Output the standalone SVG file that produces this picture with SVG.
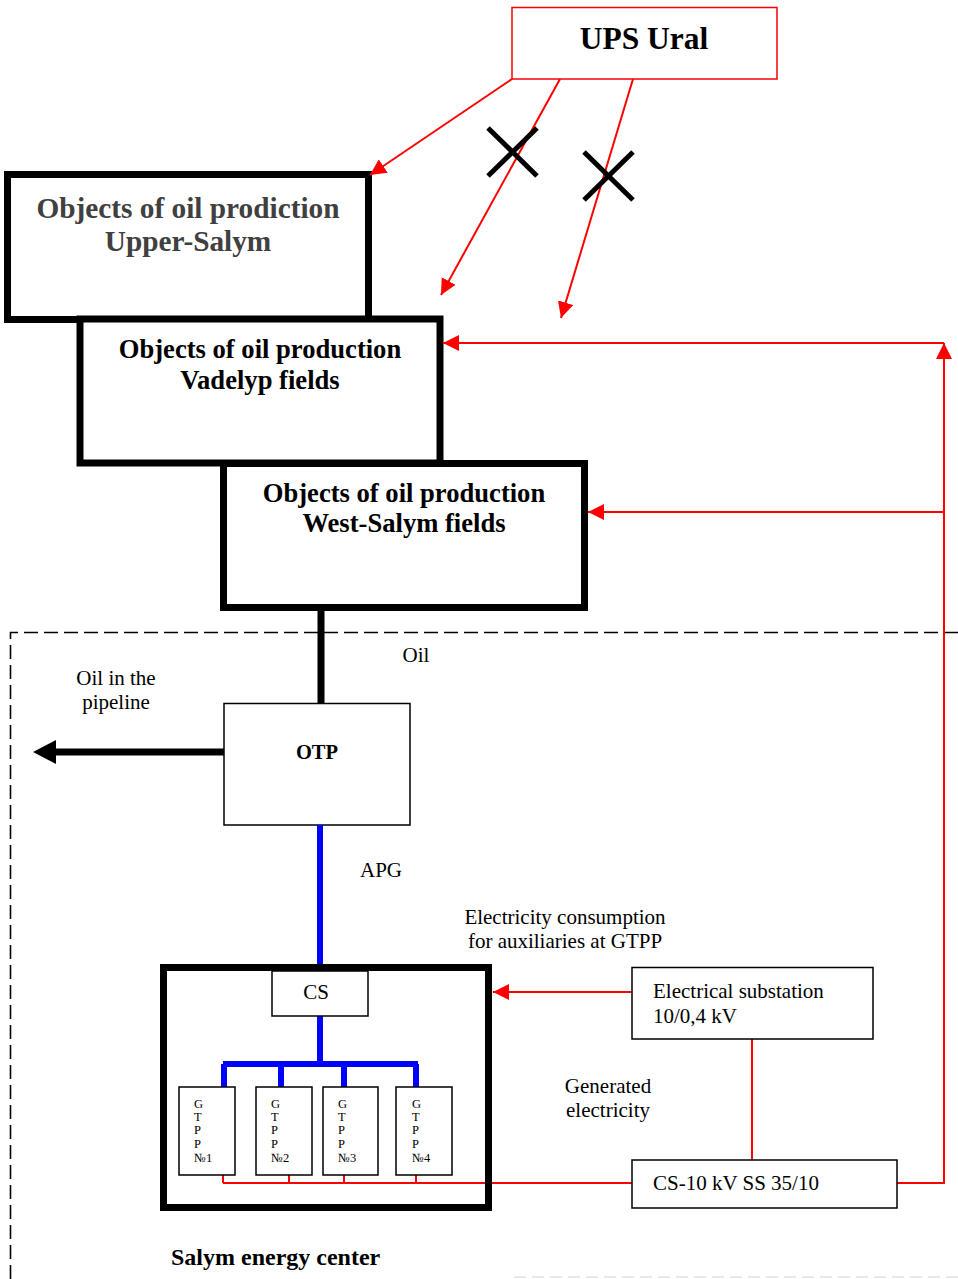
<svg xmlns="http://www.w3.org/2000/svg" width="958" height="1279" viewBox="0 0 958 1279">
<style>
text{font-family:"Liberation Serif","Times New Roman",serif;fill:#000}
.b{font-weight:bold}
.big{font-size:26.6px;font-weight:bold;text-anchor:middle}
.reg{font-size:21px}
.sm{font-size:12.5px}
.thick{fill:#fff;stroke:#000;stroke-width:7}
.thin{fill:#fff;stroke:#000;stroke-width:1.5}
.red{fill:none;stroke:#ff0000;stroke-width:2}
.blue{fill:none;stroke:#0000ff;stroke-width:6}
.dash{fill:none;stroke:#000;stroke-width:1.6;stroke-dasharray:14 6}
.x{stroke:#000;stroke-width:5}
</style>
<defs>
<marker id="ra" viewBox="0 0 16 16" refX="16" refY="8" markerWidth="16" markerHeight="16" markerUnits="userSpaceOnUse" orient="auto">
<path d="M0,0 L16,8 L0,16 z" fill="#ff0000"/>
</marker>
<marker id="ba" viewBox="0 0 23 24" refX="0" refY="12" markerWidth="23" markerHeight="24" markerUnits="userSpaceOnUse" orient="auto">
<path d="M0,0 L23,12 L0,24 z" fill="#000"/>
</marker>
</defs>

<g id="boundary">
<path class="dash" d="M958,632.5 H10.5 V1279"/>
<path d="M514,1277 H958" fill="none" stroke="#e2e2e2" stroke-width="1.5" stroke-dasharray="12 6"/>
</g>

<g id="ups-ural">
<rect x="512" y="7.5" width="265" height="71.5" fill="#fff" stroke="#ff0000" stroke-width="1.5"/>
<text x="644" y="49" class="b" font-size="31.5" text-anchor="middle">UPS Ural</text>
</g>

<g id="upper-salym">
<rect class="thick" x="7.5" y="174.5" width="361" height="145"/>
<text x="188" y="218" class="b" font-size="29.3" text-anchor="middle" style="fill:#404040">Objects of oil prodiction</text>
<text x="188" y="251" class="b" font-size="29.3" text-anchor="middle" style="fill:#404040">Upper-Salym</text>
</g>

<g id="vadelyp">
<rect class="thick" x="80" y="319" width="360" height="144"/>
<text x="260" y="358" class="big">Objects of oil production</text>
<text x="260" y="389" class="big">Vadelyp fields</text>
</g>

<g id="west-salym">
<rect class="thick" x="223.5" y="463.5" width="361" height="144"/>
<text x="404" y="502" class="big">Objects of oil production</text>
<text x="404" y="532" class="big">West-Salym fields</text>
</g>

<g id="otp">
<rect class="thin" x="224" y="703.5" width="186" height="121.5"/>
<text x="317" y="759" class="b" font-size="20.5" text-anchor="middle">OTP</text>
</g>

<g id="connectors">
<line class="red" x1="512" y1="79" x2="370" y2="175" marker-end="url(#ra)"/>
<line class="red" x1="560" y1="79" x2="441" y2="295" marker-end="url(#ra)"/>
<line class="red" x1="633" y1="79" x2="561" y2="318" marker-end="url(#ra)"/>
<path class="red" d="M897,1183 H944 V343" marker-end="url(#ra)"/>
<line class="red" x1="944" y1="343" x2="443" y2="343" marker-end="url(#ra)"/>
<line class="red" x1="944" y1="512" x2="588" y2="512" marker-end="url(#ra)"/>
<line class="red" x1="632" y1="992" x2="493" y2="992" marker-end="url(#ra)"/>
<line class="red" x1="752" y1="1039" x2="752" y2="1160"/>
<path class="red" d="M223,1183 H632 M223,1175 V1183 M289,1175 V1183 M344,1175 V1183 M416,1175 V1183"/>
<line x1="321" y1="611" x2="321" y2="703" stroke="#000" stroke-width="7"/>
<line x1="224" y1="752" x2="56" y2="752" stroke="#000" stroke-width="7" marker-end="url(#ba)"/>
<line class="blue" x1="320" y1="825" x2="320" y2="971"/>
<path class="blue" d="M320,1016 V1064 M223,1064 H418 M224,1064 V1090 M281,1064 V1087 M344,1064 V1087 M416,1064 V1087"/>
<path class="x" d="M488,128 L537,176 M537,128 L488,176"/>
<path class="x" d="M584,152 L633,200 M633,152 L584,200"/>
</g>

<g id="labels">
<text x="416" y="662" class="reg" text-anchor="middle">Oil</text>
<text x="116" y="685" class="reg" text-anchor="middle">Oil in the</text>
<text x="116" y="709" class="reg" text-anchor="middle">pipeline</text>
<text x="381" y="877" class="reg" text-anchor="middle">APG</text>
<text x="565" y="924" class="reg" text-anchor="middle">Electricity consumption</text>
<text x="565" y="948" class="reg" text-anchor="middle">for auxiliaries at GTPP</text>
<text x="608" y="1093" class="reg" text-anchor="middle">Generated</text>
<text x="608" y="1117" class="reg" text-anchor="middle">electricity</text>
<text x="171" y="1265" class="b" font-size="24">Salym energy center</text>
</g>

<g id="salym-energy-center">
<rect x="163.5" y="967.5" width="325" height="240" fill="none" stroke="#000" stroke-width="7"/>
</g>

<g id="cs">
<rect class="thin" x="272" y="971" width="96" height="45"/>
<text x="316" y="999" class="reg" text-anchor="middle">CS</text>
</g>

<g id="gtpp1">
<rect class="thin" x="179" y="1087" width="56" height="88"/>
<text class="sm" x="194" y="1108">G</text><text class="sm" x="194" y="1121">T</text><text class="sm" x="194" y="1134">P</text><text class="sm" x="194" y="1148">P</text><text class="sm" x="194" y="1162">№1</text>
</g>
<g id="gtpp2">
<rect class="thin" x="256" y="1087" width="56" height="88"/>
<text class="sm" x="271" y="1108">G</text><text class="sm" x="271" y="1121">T</text><text class="sm" x="271" y="1134">P</text><text class="sm" x="271" y="1148">P</text><text class="sm" x="271" y="1162">№2</text>
</g>
<g id="gtpp3">
<rect class="thin" x="323" y="1087" width="55" height="88"/>
<text class="sm" x="338" y="1108">G</text><text class="sm" x="338" y="1121">T</text><text class="sm" x="338" y="1134">P</text><text class="sm" x="338" y="1148">P</text><text class="sm" x="338" y="1162">№3</text>
</g>
<g id="gtpp4">
<rect class="thin" x="396" y="1087" width="56" height="88"/>
<text class="sm" x="412" y="1108">G</text><text class="sm" x="412" y="1121">T</text><text class="sm" x="412" y="1134">P</text><text class="sm" x="412" y="1148">P</text><text class="sm" x="412" y="1162">№4</text>
</g>

<g id="substation">
<rect class="thin" x="632" y="967.5" width="241" height="71.5"/>
<text x="653" y="998" class="reg">Electrical substation</text>
<text x="653" y="1023" class="reg">10/0,4 kV</text>
</g>

<g id="cs-10kv">
<rect class="thin" x="632" y="1160" width="265" height="48"/>
<text x="653" y="1190" class="reg">CS-10 kV SS 35/10</text>
</g>
</svg>
